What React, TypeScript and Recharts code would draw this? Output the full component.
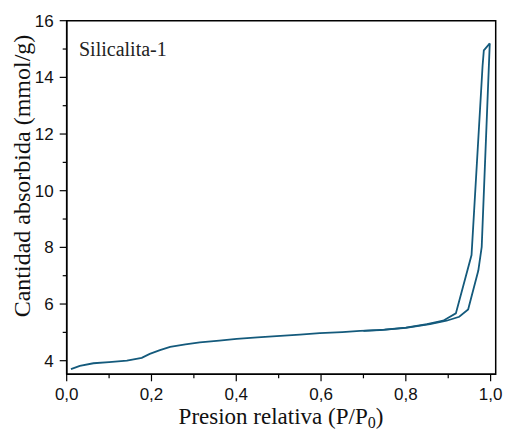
import React from 'react';
import { LineChart, Line, XAxis, YAxis, ReferenceArea } from 'recharts';

// adsorption branch (P/P0, mmol/g)
const adsP = [0.01, 0.031, 0.063, 0.1, 0.142, 0.177, 0.196, 0.22, 0.244, 0.28, 0.314, 0.36, 0.401, 0.45, 0.495, 0.55, 0.597, 0.65, 0.692, 0.739, 0.8, 0.857, 0.896, 0.926, 0.947, 0.971, 0.979, 0.998];
const adsQ = [3.7, 3.82, 3.91, 3.95, 4.0, 4.1, 4.24, 4.37, 4.49, 4.58, 4.65, 4.71, 4.77, 4.82, 4.87, 4.92, 4.97, 5.01, 5.05, 5.08, 5.16, 5.29, 5.41, 5.55, 5.81, 7.18, 8.02, 15.2];

// desorption branch
const desP = [0.998, 0.984, 0.981, 0.955, 0.918, 0.888, 0.85, 0.8, 0.75, 0.7];
const desQ = [15.2, 14.95, 14.4, 7.73, 5.67, 5.41, 5.29, 5.17, 5.1, 5.05];

const xTicks = [0, 0.1, 0.2, 0.3, 0.4, 0.5, 0.6, 0.7, 0.8, 0.9, 1.0];
const yTicks = [4, 5, 6, 7, 8, 9, 10, 11, 12, 13, 14, 15, 16];

const adsData = adsP.map((p, i) => ({ p, q: adsQ[i] }));
const desData = desP.map((p, i) => ({ p, q: desQ[i] }));

const LINE = '#145a7c';
const tickFont = '"Liberation Sans", Arial, sans-serif';
const serif = '"Liberation Serif", "DejaVu Serif", serif';

const XTick = (props: any) => {
  const { x, y, payload } = props;
  const v = payload.value as number;
  const major = Math.round(v * 10) % 2 === 0;
  return (
    <g>
      <line x1={x} y1={y} x2={x} y2={y + (major ? 7 : 4)} stroke="#000" strokeWidth={1.2} />
      {major && (
        <text x={x} y={y + 26} textAnchor="middle" fontSize={17} fontFamily={tickFont} fill="#111">
          {v.toFixed(1).replace('.', ',')}
        </text>
      )}
    </g>
  );
};

const YTick = (props: any) => {
  const { x, y, payload } = props;
  const v = payload.value as number;
  const major = v % 2 === 0;
  return (
    <g>
      <line x1={x} y1={y} x2={x - (major ? 7 : 4)} y2={y} stroke="#000" strokeWidth={1.2} />
      {major && (
        <text x={x - 13} y={y + 6} textAnchor="end" fontSize={17} fontFamily={tickFont} fill="#111">
          {v}
        </text>
      )}
    </g>
  );
};

export default function App() {
  // fixed at the page origin so the body margin doesn't push it out of view
  return (
    <div style={{ position: 'fixed', top: 0, left: 0, width: 506, height: 432, background: '#fff' }}>
      <LineChart width={506} height={432} margin={{ top: 20.7, right: 10.3, bottom: 7.7, left: 16.7 }}>
        <XAxis
          type="number"
          dataKey="p"
          domain={[0, 1.012]}
          ticks={xTicks}
          allowDataOverflow
          tickLine={false}
          tickSize={0}
          tickMargin={0}
          axisLine={{ stroke: '#000', strokeWidth: 1.5 }}
          tick={<XTick />}
          height={50}
        />
        <YAxis
          type="number"
          dataKey="q"
          domain={[3.52, 16]}
          ticks={yTicks}
          allowDataOverflow
          tickLine={false}
          tickSize={0}
          tickMargin={0}
          axisLine={{ stroke: '#000', strokeWidth: 1.5 }}
          tick={<YTick />}
          width={50}
        />
        <ReferenceArea x1={0} x2={1.012} y1={3.52} y2={16} fill="none" stroke="#000" strokeWidth={1.5} />
        <Line data={adsData} dataKey="q" type="linear" stroke={LINE} strokeWidth={1.8} dot={false} isAnimationActive={false} />
        <Line data={desData} dataKey="q" type="linear" stroke={LINE} strokeWidth={1.8} dot={false} isAnimationActive={false} />
        <text x={79} y={56} fontSize={20} fontFamily={serif} fill="#222">Silicalita-1</text>
        <text
          x={0}
          y={0}
          transform="translate(30, 176) rotate(-90)"
          textAnchor="middle"
          fontSize={24}
          fontFamily={serif}
          fill="#111"
        >
          Cantidad absorbida (mmol/g)
        </text>
        <text x={281} y={424} textAnchor="middle" fontSize={23} fontFamily={serif} fill="#111">
          Presion relativa (P/P<tspan fontSize={16} dy={4}>0</tspan><tspan dy={-4}>)</tspan>
        </text>
      </LineChart>
    </div>
  );
}
